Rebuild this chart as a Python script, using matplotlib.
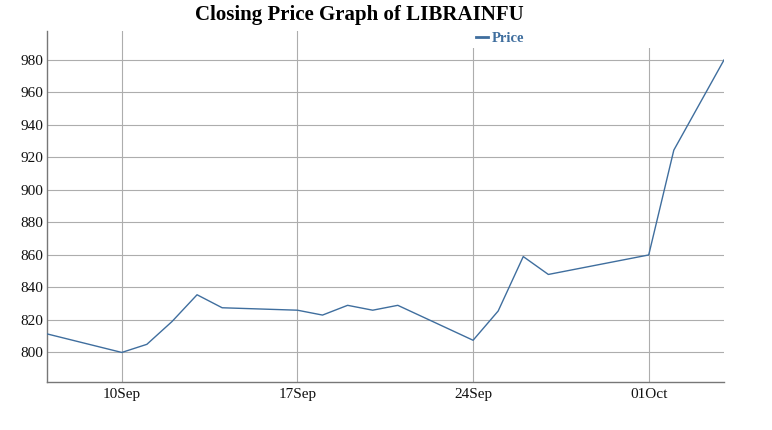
import pandas as pd
import matplotlib
matplotlib.use("Agg")
import matplotlib.pyplot as plt
import matplotlib.dates as mdates
from matplotlib.patches import Rectangle

dates = pd.to_datetime([
    "2018-09-07", "2018-09-10", "2018-09-11", "2018-09-12", "2018-09-13",
    "2018-09-14", "2018-09-17", "2018-09-18", "2018-09-19", "2018-09-20",
    "2018-09-21", "2018-09-24", "2018-09-25", "2018-09-26", "2018-09-27",
    "2018-10-01", "2018-10-02", "2018-10-04",
])
price = [811.5, 800, 805, 819, 835.5, 827.5, 826, 823, 829, 826,
         829, 807.5, 825.5, 859, 848, 860, 924.5, 980]
tick_dates = pd.to_datetime(["2018-09-10", "2018-09-17", "2018-09-24", "2018-10-01"])
y_ticks = [800, 820, 840, 860, 880, 900, 920, 940, 960, 980]

plt.rcParams['font.family'] = ['Liberation Serif', 'DejaVu Serif']

fig = plt.figure(figsize=(7.72, 4.3), dpi=100)
ax = fig.add_axes([46.5 / 772, 1 - 381.7 / 430, (724 - 46.5) / 772, (381.7 - 30.7) / 430])

line_color = '#3f6e9e'
ax.plot(dates, price, color=line_color, lw=1.0, zorder=3, label='Price')

ax.set_xlim(dates[0], dates[-1])
ax.set_ylim(782, 998)
ax.set_xticks(tick_dates)
ax.xaxis.set_major_formatter(mdates.DateFormatter('%d%b'))
ax.set_yticks(y_ticks)

ax.grid(True, color='#adadad', lw=0.8, zorder=1)
ax.set_axisbelow(True)
for s in ['top', 'right']:
    ax.spines[s].set_visible(False)
for s in ['left', 'bottom']:
    ax.spines[s].set_color('#777777')
    ax.spines[s].set_linewidth(1.0)
ax.tick_params(length=0, labelsize=11, colors='#111111')
ax.tick_params(axis='y', pad=2.5)
ax.tick_params(axis='x', pad=4.5)

# white strip behind the legend, hides the tops of the gridlines there
ax.add_patch(Rectangle((0.555, 0.952), 0.445, 0.05, transform=ax.transAxes,
                       facecolor='white', edgecolor='none', zorder=2, clip_on=False))

fig.text(359 / 772, 1 - 15 / 430, 'Closing Price Graph of LIBRAINFU',
         ha='center', va='center', fontsize=15, fontweight='bold', color='black')

leg = fig.legend(loc='center left', bbox_to_anchor=(476 / 772, 1 - 38.5 / 430),
                 frameon=False, handlelength=0.8, handletextpad=0.3,
                 prop={'weight': 'bold', 'size': 10.5}, labelcolor=line_color,
                 borderpad=0, borderaxespad=0)
for h in leg.get_lines():
    h.set_linewidth(2)

fig.savefig('out.png', dpi=100)
